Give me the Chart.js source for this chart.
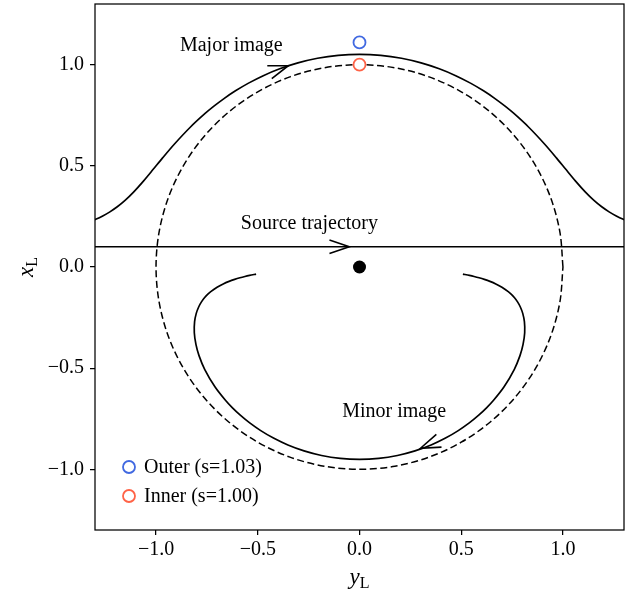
<!DOCTYPE html>
<html><head><meta charset="utf-8">
<script src="https://cdn.jsdelivr.net/npm/chart.js@4/dist/chart.umd.min.js"></script>
<style>html,body{margin:0;padding:0;background:#fff}</style>
</head><body>
<canvas id="c" width="628" height="594"></canvas>
<script>
// ---- data ----
const axisTicks = [-1.0, -0.5, 0.0, 0.5, 1.0];
const axisMin = -1.3, axisMax = 1.3;

const trajectoryX = [-1.3, 1.3];
const trajectoryY = [0.1, 0.1];

const majorX = [-1.3310,-1.2966,-1.2620,-1.2268,-1.1905,-1.1523,-1.1105,-1.0619,-1.0139,-0.9688,-0.9104,-0.8306,-0.7589,-0.7155,-0.6660,-0.6095,-0.5454,-0.4729,-0.3919,-0.3027,-0.2064,-0.1046,0.0,
  0.1046,0.2064,0.3027,0.3919,0.4729,0.5454,0.6095,0.6660,0.7155,0.7589,0.8306,0.9104,0.9688,1.0139,1.0619,1.1105,1.1523,1.1905,1.2268,1.2620,1.2966,1.3310];
const majorY = [0.2218,0.2357,0.2524,0.2726,0.2976,0.3292,0.3702,0.4247,0.4828,0.5382,0.6070,0.6921,0.7589,0.7950,0.8325,0.8708,0.9089,0.9458,0.9799,1.0091,1.0319,1.0463,1.0512,
  1.0463,1.0319,1.0091,0.9799,0.9458,0.9089,0.8708,0.8325,0.7950,0.7589,0.6921,0.6070,0.5382,0.4828,0.4247,0.3702,0.3292,0.2976,0.2726,0.2524,0.2357,0.2218];

const minorX = [0.5082,0.5403,0.5633,0.5877,0.6136,0.6410,0.6699,0.7000,0.7310,0.7466,0.7620,0.7768,0.7905,0.8023,0.8105,0.8119,0.8039,0.7888,0.7604,0.7106,0.6589,0.6255,0.5860,0.5395,0.4854,0.4229,0.3519,0.2727,0.1864,0.0946,0.0,
  -0.0946,-0.1864,-0.2727,-0.3519,-0.4229,-0.4854,-0.5395,-0.5860,-0.6255,-0.6589,-0.7106,-0.7604,-0.7888,-0.8039,-0.8119,-0.8105,-0.8023,-0.7905,-0.7768,-0.7620,-0.7466,-0.7310,-0.7000,-0.6699,-0.6410,-0.6136,-0.5877,-0.5633,-0.5403,-0.5082];
const minorY = [-0.0351,-0.0416,-0.0469,-0.0534,-0.0614,-0.0712,-0.0837,-0.1000,-0.1218,-0.1357,-0.1524,-0.1726,-0.1976,-0.2292,-0.2702,-0.3247,-0.3828,-0.4382,-0.5070,-0.5921,-0.6589,-0.6950,-0.7325,-0.7708,-0.8089,-0.8458,-0.8799,-0.9091,-0.9319,-0.9463,-0.9512,
  -0.9463,-0.9319,-0.9091,-0.8799,-0.8458,-0.8089,-0.7708,-0.7325,-0.6950,-0.6589,-0.5921,-0.5070,-0.4382,-0.3828,-0.3247,-0.2702,-0.2292,-0.1976,-0.1726,-0.1524,-0.1357,-0.1218,-0.1000,-0.0837,-0.0712,-0.0614,-0.0534,-0.0469,-0.0416,-0.0351];

const ringX = [1,0.9848,0.9397,0.8660,0.7660,0.6428,0.5,0.3420,0.1736,0,-0.1736,-0.3420,-0.5,-0.6428,-0.7660,-0.8660,-0.9397,-0.9848,-1,
  -0.9848,-0.9397,-0.8660,-0.7660,-0.6428,-0.5,-0.3420,-0.1736,0,0.1736,0.3420,0.5,0.6428,0.7660,0.8660,0.9397,0.9848,1];
const ringY = [0,0.1736,0.3420,0.5,0.6428,0.7660,0.8660,0.9397,0.9848,1,0.9848,0.9397,0.8660,0.7660,0.6428,0.5,0.3420,0.1736,0,
  -0.1736,-0.3420,-0.5,-0.6428,-0.7660,-0.8660,-0.9397,-0.9848,-1,-0.9848,-0.9397,-0.8660,-0.7660,-0.6428,-0.5,-0.3420,-0.1736,0];

const lensX = [0.0], lensY = [0.0];
const outerX = [0.0], outerY = [1.11];
const innerX = [0.0], innerY = [1.0];
const seriesLabels = ['Outer (s=1.03)', 'Inner (s=1.00)'];

const noteText = ['Major image', 'Source trajectory', 'Minor image'];
const noteX = [-0.63, -0.246, 0.17];
const noteY = [1.094, 0.212, -0.716];

const arrowTipX = [-0.35, -0.05, 0.30];
const arrowTipY = [0.995, 0.10, -0.896];
const arrowTailX = [-0.45, -0.15, 0.40];
const arrowTailY = [0.960, 0.10, -0.855];

// ---- helpers ----
const pts = (xs, ys) => xs.map((x, i) => ({x, y: ys[i]}));
const SERIF = "'Liberation Serif', 'Times New Roman', serif";
const BLUE = '#4169e1', RED = '#ff6347';
const fmt = v => (v < 0 ? '\u2212' : '') + Math.abs(v).toFixed(1);

const decor = {
  id: 'decor',
  afterDraw(chart) {
    const {ctx, chartArea: a, scales: {x, y}} = chart;
    ctx.save();
    ctx.strokeStyle = '#000'; ctx.lineWidth = 1.25;
    ctx.strokeRect(a.left, a.top, a.right - a.left, a.bottom - a.top);

    ctx.fillStyle = '#000';
    ctx.font = '20px ' + SERIF;
    ctx.textAlign = 'center'; ctx.textBaseline = 'middle';
    noteText.forEach((t, i) => ctx.fillText(t, x.getPixelForValue(noteX[i]), y.getPixelForValue(noteY[i])));

    ctx.lineWidth = 1.6; ctx.strokeStyle = '#000'; ctx.lineCap = 'butt'; ctx.lineJoin = 'miter';
    arrowTipX.forEach((tx, i) => {
      const px = x.getPixelForValue(tx), py = y.getPixelForValue(arrowTipY[i]);
      const qx = x.getPixelForValue(arrowTailX[i]), qy = y.getPixelForValue(arrowTailY[i]);
      const ang = Math.atan2(py - qy, px - qx);
      const L = 21, h = 19 * Math.PI / 180;
      ctx.beginPath();
      ctx.moveTo(px - L * Math.cos(ang - h), py - L * Math.sin(ang - h));
      ctx.lineTo(px, py);
      ctx.lineTo(px - L * Math.cos(ang + h), py - L * Math.sin(ang + h));
      ctx.stroke();
    });

    const cols = [BLUE, RED];
    seriesLabels.forEach((lab, i) => {
      const cx = a.left + 34, cy = a.bottom - 63 + i * 29;
      ctx.beginPath(); ctx.arc(cx, cy, 6, 0, Math.PI * 2);
      ctx.fillStyle = '#fff'; ctx.fill();
      ctx.strokeStyle = cols[i]; ctx.lineWidth = 1.8; ctx.stroke();
      ctx.fillStyle = '#000'; ctx.textAlign = 'left'; ctx.textBaseline = 'middle';
      ctx.font = '20px ' + SERIF;
      ctx.fillText(lab, cx + 15, cy + 1);
    });

    const drawSub = (main, sub, cx, cy) => {
      ctx.font = 'italic 23px ' + SERIF;
      const w1 = ctx.measureText(main).width;
      ctx.font = '16px ' + SERIF;
      const w2 = ctx.measureText(sub).width;
      const x0 = cx - (w1 + w2) / 2;
      ctx.textAlign = 'left'; ctx.textBaseline = 'alphabetic'; ctx.fillStyle = '#000';
      ctx.font = 'italic 23px ' + SERIF; ctx.fillText(main, x0, cy);
      ctx.font = '16px ' + SERIF; ctx.fillText(sub, x0 + w1, cy + 4);
    };
    drawSub('y', 'L', (a.left + a.right) / 2, 584);
    ctx.save();
    ctx.translate(33, (a.top + a.bottom) / 2);
    ctx.rotate(-Math.PI / 2);
    drawSub('x', 'L', 0, 0);
    ctx.restore();
    ctx.restore();
  }
};

const tickOpts = {
  color: '#000', font: {family: SERIF, size: 20}, padding: 3,
  callback: v => fmt(v), autoSkip: false, maxRotation: 0
};
const yTickOpts = Object.assign({}, tickOpts, {padding: 6});
const gridOpts = {display: true, drawOnChartArea: false, drawTicks: true, tickLength: 5, color: '#000', lineWidth: 1.25};

new Chart(document.getElementById('c'), {
  type: 'scatter',
  data: {
    datasets: [
      {label: seriesLabels[0], data: pts(outerX, outerY), pointRadius: 6, pointBorderWidth: 1.8, pointBorderColor: BLUE, pointBackgroundColor: '#fff', order: 0},
      {label: seriesLabels[1], data: pts(innerX, innerY), pointRadius: 6, pointBorderWidth: 1.8, pointBorderColor: RED, pointBackgroundColor: '#fff', order: 1},
      {label: 'lens', data: pts(lensX, lensY), pointRadius: 6.5, pointBorderWidth: 0, pointBackgroundColor: '#000', order: 2},
      {label: 'major', data: pts(majorX, majorY), showLine: true, borderColor: '#000', borderWidth: 1.7, pointRadius: 0, tension: 0.3, order: 3},
      {label: 'minor', data: pts(minorX, minorY), showLine: true, borderColor: '#000', borderWidth: 1.7, pointRadius: 0, tension: 0.3, order: 4},
      {label: 'trajectory', data: pts(trajectoryX, trajectoryY), showLine: true, borderColor: '#000', borderWidth: 1.7, pointRadius: 0, order: 5},
      {label: 'ring', data: pts(ringX, ringY), showLine: true, borderColor: '#000', borderWidth: 1.5, borderDash: [7, 3.5], pointRadius: 0, tension: 0.33, order: 6}
    ]
  },
  options: {
    responsive: false, animation: false, devicePixelRatio: 1,
    layout: {autoPadding: false, padding: {top: 4, right: 4, left: 0, bottom: 0}},
    plugins: {legend: {display: false}, tooltip: {enabled: false}},
    scales: {
      x: {type: 'linear', min: axisMin, max: axisMax, border: {display: false},
          grid: gridOpts, ticks: tickOpts,
          afterBuildTicks: s => { s.ticks = axisTicks.map(v => ({value: v})); },
          afterFit: s => { s.height = 64; s.paddingLeft = 0; s.paddingRight = 0; }},
      y: {type: 'linear', min: axisMin, max: axisMax, border: {display: false},
          grid: gridOpts, ticks: yTickOpts,
          afterBuildTicks: s => { s.ticks = axisTicks.map(v => ({value: v})); },
          afterFit: s => { s.width = 95; s.paddingTop = 0; s.paddingBottom = 0; }}
    }
  },
  plugins: [decor]
});
</script>
</body></html>
